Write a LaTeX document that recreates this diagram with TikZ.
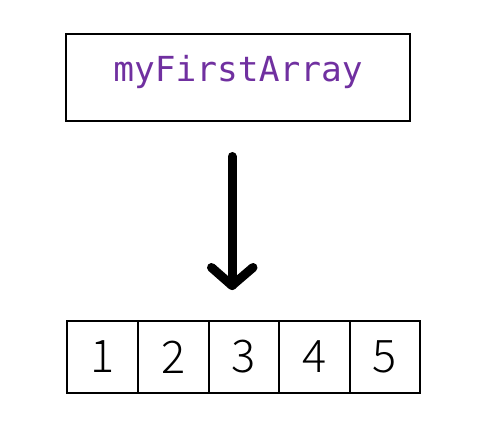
\documentclass[tikz,border=0pt]{standalone}
\usepackage{fontspec}
\usetikzlibrary{positioning}
\newfontfamily\codefont{DejaVu Sans Mono}
\newfontfamily\numfont{Noto Sans CJK JP}[UprightFont=* Light]
\definecolor{codepurple}{RGB}{112,48,160}
\tikzset{
  namebox/.style={draw, line width=2pt, minimum width=344pt, minimum height=87pt,
    inner sep=0pt, outer sep=0pt},
  nametext/.style={text=codepurple, font=\codefont\fontsize{34.5}{40}\selectfont},
  cell/.style={draw, line width=2pt, minimum width=70.6pt, minimum height=72pt,
    inner sep=0pt, outer sep=0pt, font=\numfont\fontsize{45}{54}\selectfont},
  bigarrow/.style={line width=9pt, line cap=round, line join=round}
}
\begin{document}
\begin{tikzpicture}[x=1pt,y=-1pt]
  \useasboundingbox (0,0) rectangle (480,426);

  \node[namebox] (name) at (238,77.5) {};
  \node[nametext] (label) at (238,72) {myFirstArray};

  % the array cells
  \node[cell] (c1) at (102.6,357) {1};
  \node[cell, right=0pt of c1] (c2) {2};
  \node[cell, right=0pt of c2] (c3) {3};
  \node[cell, right=0pt of c3] (c4) {4};
  \node[cell, right=0pt of c4] (c5) {5};

  % arrow from the name down to the array
  \coordinate (top) at (232,156.5);
  \coordinate (tip) at (232,285.5);
  \coordinate (wl) at (211.5,267.5);
  \coordinate (wr) at (253,267.5);
  \draw[bigarrow] (top) -- (tip);
  \draw[bigarrow] (wl) -- (tip) -- (wr);
\end{tikzpicture}
\end{document}
